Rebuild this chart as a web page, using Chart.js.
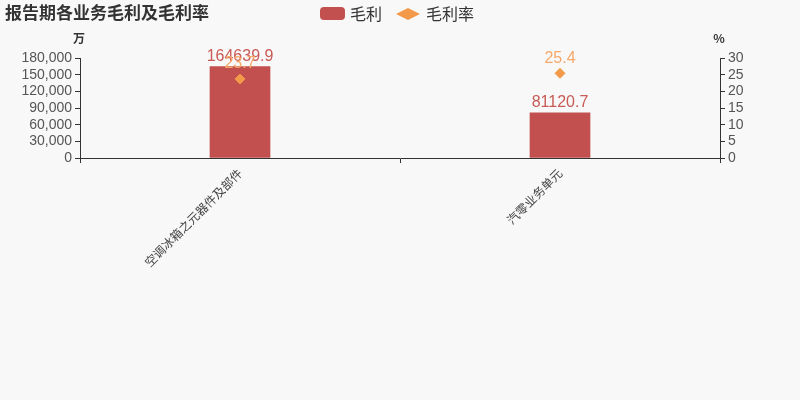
<!DOCTYPE html>
<html>
<head>
<meta charset="utf-8">
<script src="https://cdn.jsdelivr.net/npm/chart.js@4"></script>
<style>
  html, body { margin: 0; padding: 0; background: #f8f8f8; }
  #wrap { width: 800px; height: 400px; }
</style>
</head>
<body>
<div id="wrap"><canvas id="myChart" width="800" height="400"></canvas></div>
<script>
// data
const categories = ['空调冰箱之元器件及部件', '汽零业务单元'];
const grossProfit = [164639.9, 81120.7];   // 万
const grossMargin = [23.7, 25.4];          // %
const leftTicks = [0, 30000, 60000, 90000, 120000, 150000, 180000];
const rightTicks = [0, 5, 10, 15, 20, 25, 30];

const FONT = '"Liberation Sans", "Noto Sans CJK SC", sans-serif';
const CJK = '"Noto Sans CJK SC", sans-serif';
const barColor = '#c1504e';
const dotColor = '#f39a4a';

// title, legend, axis units and value labels
const decor = {
    id: 'decor',
    afterDatasetsDraw(chart) {
        const c = chart.ctx;
        c.save();
        c.textBaseline = 'middle';
        c.fillStyle = '#333';
        c.font = 'bold 17px ' + CJK;
        c.textAlign = 'left';
        c.fillText('报告期各业务毛利及毛利率', 5, 13);

        // legend
        c.fillStyle = barColor;
        c.beginPath();
        c.roundRect(320, 7, 25, 13, 4);
        c.fill();
        c.fillStyle = '#333';
        c.font = '16px ' + CJK;
        c.fillText('毛利', 350, 14);
        c.fillStyle = dotColor;
        c.beginPath();
        c.moveTo(396, 14); c.lineTo(408, 8); c.lineTo(420, 14); c.lineTo(408, 20);
        c.closePath();
        c.fill();
        c.fillStyle = '#333';
        c.fillText('毛利率', 426, 14);

        // units
        c.font = 'bold 12px ' + CJK;
        c.textAlign = 'center';
        c.fillText('万', 79, 38);
        c.fillText('%', 719, 38);

        // value labels
        c.font = '16px ' + FONT;
        c.textBaseline = 'bottom';
        chart.getDatasetMeta(0).data.forEach((el, i) => {
            c.fillStyle = '#c95a56';
            c.fillText(grossProfit[i].toFixed(1), el.x, el.y - 2);
        });
        chart.getDatasetMeta(1).data.forEach((el, i) => {
            c.fillStyle = '#f7a868';
            c.fillText(grossMargin[i].toFixed(1), el.x, el.y - 7);
        });
        c.restore();
    }
};

const ctx = document.getElementById('myChart').getContext('2d');
const myChart = new Chart(ctx, {
    type: 'bar',
    data: {
        labels: categories,
        datasets: [{
            label: '毛利',
            data: grossProfit,
            backgroundColor: barColor,
            borderWidth: 0,
            barThickness: 60,
            yAxisID: 'y',
            order: 2
        }, {
            label: '毛利率',
            type: 'line',
            data: grossMargin,
            showLine: false,
            pointStyle: 'rectRot',
            pointRadius: 5,
            backgroundColor: dotColor,
            borderColor: dotColor,
            yAxisID: 'y1',
            order: 1
        }]
    },
    options: {
        responsive: false,
        animation: false,
        layout: { padding: { top: 58, left: 0, right: 0, bottom: 0 } },
        plugins: { legend: { display: false }, tooltip: { enabled: false } },
        scales: {
            x: {
                grid: { offset: true, drawOnChartArea: false, color: '#333', tickLength: 5 },
                border: { color: '#333' },
                ticks: { minRotation: 45, maxRotation: 45, color: '#444', font: { family: CJK, size: 12 } },
                afterFit(s) { s.height = 242; }
            },
            y: {
                position: 'left',
                min: 0, max: 180000,
                afterBuildTicks(s) { s.ticks = leftTicks.map(v => ({ value: v })); },
                grid: { drawOnChartArea: false, color: '#333', tickLength: 5 },
                border: { color: '#333' },
                ticks: {
                    autoSkip: false,
                    color: '#555', font: { family: FONT, size: 14 }, padding: 3,
                    callback: v => v.toLocaleString('en-US')
                },
                afterFit(s) { s.width = 80; }
            },
            y1: {
                position: 'right',
                min: 0, max: 30,
                afterBuildTicks(s) { s.ticks = rightTicks.map(v => ({ value: v })); },
                grid: { drawOnChartArea: false, color: '#333', tickLength: 5 },
                border: { color: '#333' },
                ticks: { autoSkip: false, color: '#555', font: { family: FONT, size: 14 }, padding: 3 },
                afterFit(s) { s.width = 80; }
            }
        }
    },
    plugins: [decor]
});
</script>
</body>
</html>
